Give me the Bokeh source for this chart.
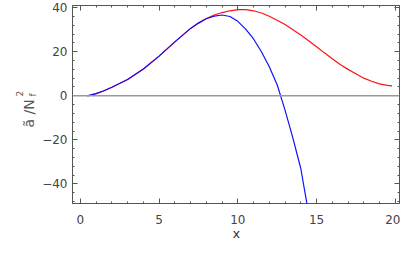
import numpy as np
from bokeh.plotting import figure
from bokeh.models import Label, LinearAxis, FixedTicker, Span
from bokeh.embed import file_html
from bokeh.resources import INLINE

# ---- data ----
blue_x = [0.45, 1, 1.5, 2, 3, 4, 5, 6, 7, 7.5, 8, 8.5, 9, 9.5, 10, 10.5, 11, 11.5, 12, 12.5, 13, 13.5, 14, 14.5]
blue_y = [0.0, 1.0, 2.3, 3.9, 7.4, 12.2, 18.0, 24.5, 30.6, 33.0, 35.0, 36.2, 36.7, 36.0, 33.8, 30.3, 25.8, 20.0, 13.2, 5.0, -6.5, -19.2, -33.0, -53.5]

red_x = [0.45, 1, 1.5, 2, 3, 4, 5, 6, 7, 7.5, 8, 8.5, 9, 9.5, 10, 10.5, 11, 11.5, 12, 12.5, 13, 13.5, 14, 14.5, 15, 15.5, 16, 16.5, 17, 17.5, 18, 18.5, 19, 19.5, 19.8]
red_y = [0.0, 1.0, 2.3, 3.9, 7.4, 12.2, 18.0, 24.5, 30.6, 33.0, 35.1, 36.7, 37.8, 38.6, 39.1, 39.1, 38.6, 37.6, 36.1, 34.3, 32.4, 30.0, 27.6, 25.0, 22.3, 19.5, 16.8, 14.2, 12.0, 10.0, 8.0, 6.6, 5.4, 4.7, 4.5]

x_ticks = [0, 5, 10, 15, 20]
y_ticks = [-40, -20, 0, 20, 40]
y_tick_labels = ["\u221240", "\u221220", "0", "20", "40"]

W, H = 400, 241
p = figure(width=W, height=H, output_backend="svg", toolbar_location=None,
           x_range=(-0.5, 20.27), y_range=(-48.9, 41.0),
           min_border_left=72, min_border_right=1, min_border_top=5, min_border_bottom=33)
p.background_fill_color = "white"
p.border_fill_color = "white"
p.grid.visible = False
p.outline_line_color = "#555555"
p.outline_line_width = 1

axis_col = "#555555"

def style(ax, show_labels):
    ax.axis_line_color = axis_col
    ax.major_tick_line_color = axis_col
    ax.minor_tick_line_color = axis_col
    ax.major_tick_in = 5
    ax.major_tick_out = 0
    ax.minor_tick_in = 2
    ax.minor_tick_out = 0
    ax.major_label_text_font = "DejaVu Sans"
    ax.major_label_text_font_size = "12px"
    ax.major_label_text_color = "#444444" if show_labels else None

p.xaxis.ticker = FixedTicker(ticks=x_ticks, minor_ticks=list(np.arange(0, 21, 1)))
p.yaxis.ticker = FixedTicker(ticks=y_ticks, minor_ticks=list(np.arange(-48, 41, 4)))
style(p.xaxis[0], True)
style(p.yaxis[0], True)
p.yaxis.major_label_overrides = {t: s for t, s in zip(y_ticks, y_tick_labels)}
p.xaxis.major_label_standoff = 11
p.yaxis.major_label_standoff = 5

top = LinearAxis(ticker=FixedTicker(ticks=x_ticks, minor_ticks=list(np.arange(0, 21, 1))))
right = LinearAxis(ticker=FixedTicker(ticks=y_ticks, minor_ticks=list(np.arange(-48, 41, 4))))
style(top, False)
style(right, False)
top.major_label_standoff = 0
right.major_label_standoff = 0
p.add_layout(top, "above")
p.add_layout(right, "right")

p.add_layout(Span(location=0, dimension="width", line_color="#999999", line_width=1.6))

p.line(red_x, red_y, line_color="#ff1010", line_width=1.2)
p.line(blue_x, blue_y, line_color="#1010ff", line_width=1.2)

# x-axis label (in the bottom panel)
p.add_layout(Label(x=236, y=234, x_units="canvas", y_units="canvas",
                   text="x", text_font="Liberation Mono", text_font_size="13px",
                   text_color="#222222", text_align="center", text_baseline="alphabetic"), "below")

# y-axis label: ã / N_f^2 (rotated, in the left panel)
p.add_layout(Label(x=28, y=127, x_units="canvas", y_units="canvas", angle=np.pi / 2,
                   text="ã /N", text_font="DejaVu Sans", text_font_size="14px",
                   text_color="#555555", text_align="left", text_baseline="alphabetic"), "left")
p.add_layout(Label(x=19, y=96, x_units="canvas", y_units="canvas", angle=np.pi / 2,
                   text="2", text_font="DejaVu Sans", text_font_size="9px",
                   text_color="#555555", text_align="left", text_baseline="alphabetic"), "left")
p.add_layout(Label(x=32, y=96, x_units="canvas", y_units="canvas", angle=np.pi / 2,
                   text="f", text_font="DejaVu Sans", text_font_size="9px",
                   text_color="#555555", text_align="left", text_baseline="alphabetic"), "left")

open("out.html", "w").write(file_html(p, INLINE))
